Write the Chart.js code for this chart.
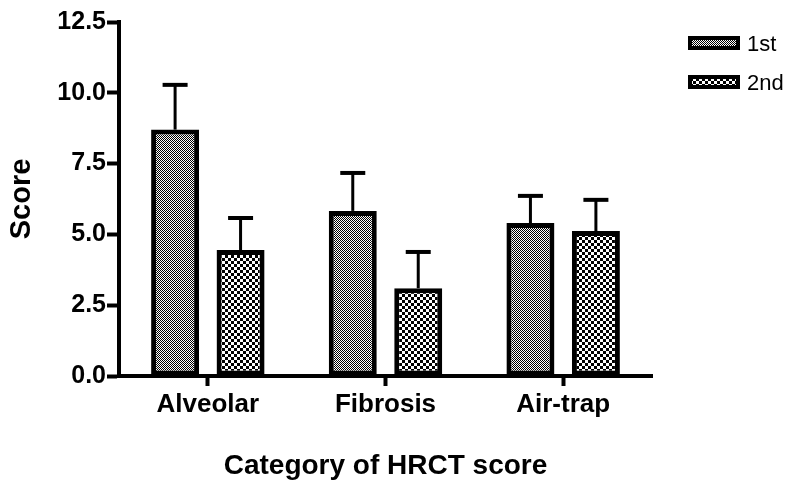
<!DOCTYPE html>
<html>
<head>
<meta charset="utf-8">
<script src="https://cdn.jsdelivr.net/npm/chart.js@4.4.1/dist/chart.umd.min.js"></script>
<style>
html,body{margin:0;padding:0;background:#fff;}
#wrap{width:795px;height:483px;}
</style>
</head>
<body>
<div id="wrap"><canvas id="c" width="795" height="483"></canvas></div>
<script>
const categories = ["Alveolar", "Fibrosis", "Air-trap"];
const seriesNames = ["1st", "2nd"];
const firstMeans = [8.70, 5.83, 5.40];
const firstErrors = [1.58, 1.34, 0.96];
const secondMeans = [4.45, 3.10, 5.12];
const secondErrors = [1.13, 1.28, 1.10];
const yTicks = [0, 2.5, 5.0, 7.5, 10.0, 12.5];

function makePattern(cell, tile) {
  const p = document.createElement('canvas');
  p.width = tile; p.height = tile;
  const g = p.getContext('2d');
  g.fillStyle = '#fff'; g.fillRect(0, 0, tile, tile);
  g.fillStyle = '#000';
  for (let y = 0; y < tile; y += cell) {
    for (let x = 0; x < tile; x += cell) {
      if (((x / cell) + (y / cell)) % 2 === 0) g.fillRect(x, y, cell, cell);
    }
  }
  return document.getElementById('c').getContext('2d').createPattern(p, 'repeat');
}
const fineFill = makePattern(1, 2);
const coarseFill = makePattern(3, 6);

const errorBars = {
  id: 'errorBars',
  afterDatasetsDraw(chart) {
    const ctx = chart.ctx;
    const ys = chart.scales.y;
    chart.data.datasets.forEach((ds, di) => {
      const meta = chart.getDatasetMeta(di);
      meta.data.forEach((bar, i) => {
        const top = ys.getPixelForValue(ds.data[i] + ds.errors[i]);
        ctx.save();
        ctx.strokeStyle = '#000';
        ctx.lineWidth = 3;
        ctx.beginPath();
        ctx.moveTo(bar.x, bar.y);
        ctx.lineTo(bar.x, top);
        ctx.stroke();
        ctx.lineWidth = 4;
        ctx.beginPath();
        ctx.moveTo(bar.x - 12.5, top);
        ctx.lineTo(bar.x + 12.5, top);
        ctx.stroke();
        ctx.restore();
      });
    });
  }
};

const customLegend = {
  id: 'customLegend',
  afterDraw(chart) {
    const ctx = chart.ctx;
    const ys = [43, 82];
    chart.data.datasets.forEach((ds, i) => {
      const y = ys[i];
      ctx.save();
      ctx.fillStyle = ds.backgroundColor;
      ctx.fillRect(688, y - 7, 52, 14);
      ctx.strokeStyle = '#000';
      ctx.lineWidth = 4;
      ctx.strokeRect(690, y - 5, 48, 10);
      ctx.fillStyle = '#000';
      ctx.font = '22px "Liberation Sans", Arial, sans-serif';
      ctx.textBaseline = 'middle';
      ctx.textAlign = 'left';
      ctx.fillText(ds.label, 747, y + 2);
      ctx.restore();
    });
  }
};

new Chart(document.getElementById('c'), {
  type: 'bar',
  data: {
    labels: categories,
    datasets: [
      { label: seriesNames[0], data: firstMeans, errors: firstErrors, backgroundColor: fineFill,
        borderColor: '#000', borderWidth: 5, borderSkipped: false },
      { label: seriesNames[1], data: secondMeans, errors: secondErrors, backgroundColor: coarseFill,
        borderColor: '#000', borderWidth: 5, borderSkipped: false }
    ]
  },
  options: {
    responsive: false,
    animation: false,
    datasets: { bar: { categoryPercentage: 0.737, barPercentage: 0.733 } },
    layout: { padding: { top: 22, right: 143, bottom: 0, left: 0 } },
    plugins: { legend: { display: false }, tooltip: { enabled: false } },
    scales: {
      x: {
        afterFit(s) { s.height = 107; },
        grid: { display: true, drawOnChartArea: false, drawTicks: true, tickLength: 10, tickWidth: 4, tickColor: '#000', offset: false },
        border: { display: true, color: '#000', width: 4 },
        ticks: { color: '#000', padding: 3, font: { family: '"Liberation Sans", Arial, sans-serif', size: 26, weight: 'bold' } },
        title: { display: true, text: 'Category of HRCT score', color: '#000', padding: { top: 0, bottom: 0 },
                 font: { family: '"Liberation Sans", Arial, sans-serif', size: 28, weight: 'bold', lineHeight: 1.2 } }
      },
      y: {
        min: 0, max: 12.5,
        afterFit(s) { s.width = 119; },
        afterBuildTicks(s) { s.ticks = yTicks.map(v => ({ value: v })); },
        grid: { display: true, drawOnChartArea: false, drawTicks: true, tickLength: 12, tickWidth: 4, tickColor: '#000' },
        border: { display: true, color: '#000', width: 4 },
        ticks: { color: '#000', padding: 1, callback: v => Number(v).toFixed(1),
                 font: { family: '"Liberation Sans", Arial, sans-serif', size: 25, weight: 'bold' } },
        title: { display: true, text: 'Score', color: '#000', padding: { top: 5, bottom: 0 },
                 font: { family: '"Liberation Sans", Arial, sans-serif', size: 29, weight: 'bold', lineHeight: 1.2 } }
      }
    }
  },
  plugins: [errorBars, customLegend]
});
</script>
</body>
</html>
